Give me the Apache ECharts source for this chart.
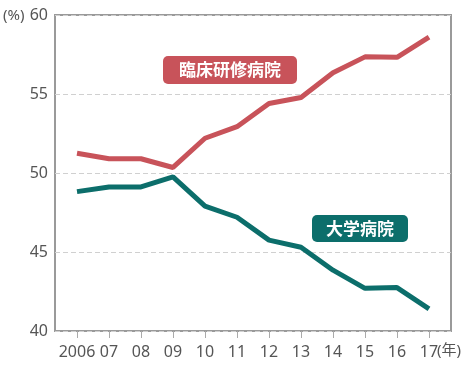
<!DOCTYPE html>
<html><head><meta charset="utf-8">
<script src="https://cdn.jsdelivr.net/npm/echarts@6/dist/echarts.min.js"></script>
<style>html,body{margin:0;padding:0;background:#fff}#c{width:469px;height:370px}</style>
</head><body><div id="c"></div>
<script>
const categories = ['2006','07','08','09','10','11','12','13','14','15','16','17'];
const rinsho = [51.25, 50.9, 50.9, 50.35, 52.2, 52.93, 54.4, 54.78, 56.35, 57.35, 57.32, 58.6];
const daigaku = [48.82, 49.12, 49.12, 49.75, 47.9, 47.2, 45.75, 45.3, 43.85, 42.7, 42.75, 41.4];
const yTicks = [40, 45, 50, 55, 60];
const redColor = '#c8535a', tealColor = '#0c6e6b';
const font = '"Noto Sans", "Noto Sans CJK JP", sans-serif';
const chart = echarts.init(document.getElementById('c'));
chart.setOption({
  animation: false,
  grid: [
    {left: 55, right: 18, top: 15, bottom: 39, show: true, borderColor: '#9a9a9a', borderWidth: 2, backgroundColor: 'transparent'},
    {left: 77, right: 40, top: 15, bottom: 39}
  ],
  xAxis: [
    {gridIndex: 0, type: 'value', min: 0, max: 1, show: false},
    {gridIndex: 1, type: 'category', data: categories, boundaryGap: false,
     axisLine: {show: false},
     axisTick: {show: true, length: 7, lineStyle: {color: '#aaa', width: 1}, alignWithLabel: true},
     axisLabel: {color: '#555', fontSize: 16, fontFamily: font, margin: 13, interval: 0}}
  ],
  yAxis: [
    {gridIndex: 0, type: 'value', min: yTicks[0], max: yTicks[yTicks.length-1], interval: 5,
     axisLine: {show: false}, axisTick: {show: false},
     axisLabel: {color: '#555', fontSize: 16, fontFamily: font, margin: 7},
     splitLine: {show: true, lineStyle: {color: '#d0d0d0', type: [5, 3], width: 1}}},
    {gridIndex: 1, type: 'value', min: 40, max: 60, show: false, splitLine: {show: false}}
  ],
  series: [
    {type: 'line', xAxisIndex: 1, yAxisIndex: 1, data: rinsho, symbol: 'none',
     lineStyle: {color: redColor, width: 5}, z: 5},
    {type: 'line', xAxisIndex: 1, yAxisIndex: 1, data: daigaku, symbol: 'none',
     lineStyle: {color: tealColor, width: 5}, z: 5}
  ],
  graphic: [
    {type: 'text', left: 3, top: 8, style: {text: '(%)', fill: '#555', font: '15px ' + font}},
    {type: 'text', left: 437, top: 343, style: {text: '(年)', fill: '#555', font: '15px ' + font}},
    {type: 'rect', shape: {x: 163, y: 56, width: 134, height: 28, r: 5}, style: {fill: redColor}, z: 10},
    {type: 'text', x: 230, y: 70, style: {text: '臨床研修病院', fill: '#fff', font: 'bold 17px "Noto Sans CJK JP"', align: 'center', verticalAlign: 'middle'}, z: 11},
    {type: 'rect', shape: {x: 312, y: 215, width: 96, height: 27, r: 5}, style: {fill: tealColor}, z: 10},
    {type: 'text', x: 360, y: 228.5, style: {text: '大学病院', fill: '#fff', font: 'bold 17px "Noto Sans CJK JP"', align: 'center', verticalAlign: 'middle'}, z: 11}
  ]
});
</script></body></html>
